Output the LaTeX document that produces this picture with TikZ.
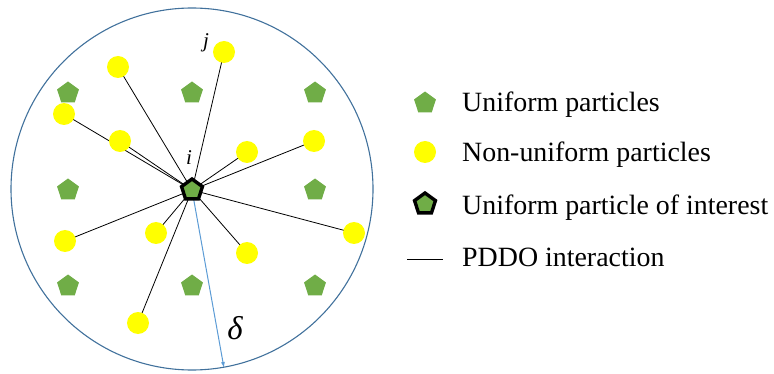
\documentclass[tikz,border=0pt]{standalone}
\usepackage{fontspec}
\setmainfont{Liberation Serif}
\usetikzlibrary{shapes.geometric,arrows.meta}
\pgfdeclarelayer{bg}
\pgfsetlayers{bg,main}
\definecolor{pgreen}{HTML}{70AD47}
\definecolor{pyellow}{HTML}{FFFF00}
\definecolor{rimblue}{HTML}{41719C}
\definecolor{arrowblue}{HTML}{5B9BD5}
\tikzset{
  upart/.style={regular polygon, regular polygon sides=5, fill=pgreen,
    minimum size=23pt, inner sep=0pt},
  ipart/.style={upart, draw=black, line width=3.4pt, minimum size=22pt},
  npart/.style={circle, fill=pyellow, minimum size=22pt, inner sep=0pt},
  link/.style={black, line width=0.8pt},
  legtext/.style={anchor=base west, inner sep=0pt, font=\fontsize{27.9}{30}\selectfont},
  pointlabel/.style={inner sep=0pt, font=\fontsize{21}{24}\selectfont\itshape}
}
\begin{document}
\begin{tikzpicture}[x=1pt,y=-1pt]
\useasboundingbox (0,0) rectangle (774,374);

% horizon of the particle of interest
\draw[rimblue, line width=1.1pt] (192,189) circle (181);

% regular grid of uniform particles
\node[upart] (u1) at (68,93) {};
\node[upart] (u2) at (192,93) {};
\node[upart] (u3) at (315,93) {};
\node[upart] (u4) at (68,190) {};
\node[upart] (u6) at (315,190) {};
\node[upart] (u7) at (68,286) {};
\node[upart] (u8) at (192,286) {};
\node[upart] (u9) at (315,286) {};

% particle of interest
\node[ipart] (c) at (192,190) {};

% scattered non-uniform particles
\node[npart] (n1) at (118,67) {};
\node[npart] (n2) at (224,52) {};
\node[npart] (n3) at (64,114) {};
\node[npart] (n4) at (120,141) {};
\node[npart] (n5) at (247,152) {};
\node[npart] (n6) at (314,141) {};
\node[npart] (n7) at (65,241) {};
\node[npart] (n8) at (156,233) {};
\node[npart] (n9) at (247,253) {};
\node[npart] (n10) at (354,233) {};
\node[npart] (n11) at (138,323) {};

% PDDO interactions and horizon radius
\coordinate (rim) at (224,368);
\begin{pgfonlayer}{bg}
  \foreach \k in {1,...,11} {
    \draw[link] (c.center) -- (n\k.center);
  }
  \draw[arrowblue, line width=1pt, -{Latex[length=6pt,width=4pt]}] (c.center) -- (rim);
\end{pgfonlayer}

\node[pointlabel, anchor=base] (li) at (189,165) {i};
\node[pointlabel, anchor=base] (lj) at (206,48) {j};
\node[inner sep=0pt, anchor=base, font=\fontsize{33}{36}\selectfont\itshape] (ld) at (235,339) {δ};

% legend
\node[upart] (k1) at (425,103) {};
\node[legtext] (t1) at (462,112) {Uniform particles};
\node[npart] (k2) at (425,152) {};
\node[legtext] (t2) at (462,162) {Non-uniform particles};
\node[ipart] (k3) at (425,204) {};
\node[legtext] (t3) at (462,215) {Uniform particle of interest};
\coordinate (k4a) at (407,259);
\coordinate (k4b) at (443,259);
\draw[link] (k4a) -- (k4b);
\node[legtext] (t4) at (462,267) {PDDO interaction};
\end{tikzpicture}
\end{document}
